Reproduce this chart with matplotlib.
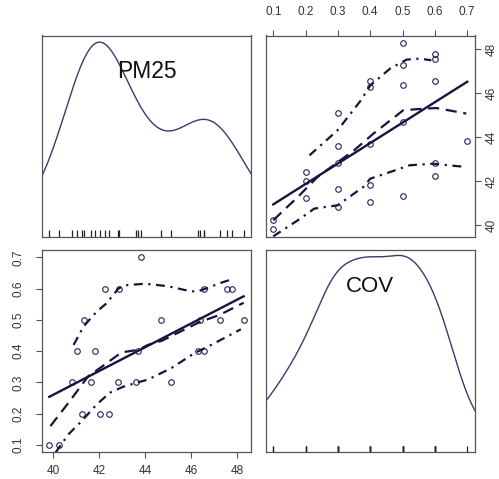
import numpy as np
import matplotlib
matplotlib.use("Agg")
import matplotlib.pyplot as plt
import matplotlib.transforms as mtransforms

plt.rcParams['font.family'] = ['Liberation Sans', 'DejaVu Sans']

# ---- data ----
cov = [0.1, 0.1,
       0.2, 0.2, 0.2,
       0.3, 0.3, 0.3, 0.3, 0.3,
       0.4, 0.4, 0.4, 0.4, 0.4,
       0.5, 0.5, 0.5, 0.5, 0.5,
       0.6, 0.6, 0.6, 0.6, 0.6,
       0.7]
pm25 = [39.83, 40.25,
        41.24, 42.03, 42.42,
        40.84, 41.66, 42.83, 43.61, 45.12,
        41.05, 41.84, 43.70, 46.29, 46.58,
        41.33, 44.71, 46.38, 47.28, 48.29,
        42.24, 42.85, 46.58, 47.58, 47.78,
        43.83]

# smoother (dashed) and spread (dash-dot) lines
# panel: x = PM25, y = COV
bl_loess_x = [39.88, 40.67, 41.53, 42.25, 42.97, 43.69, 44.13, 44.72, 46.37, 47.24, 48.29]
bl_loess_y = [0.160, 0.235, 0.320, 0.357, 0.396, 0.404, 0.420, 0.433, 0.493, 0.516, 0.555]
bl_upper_x = [40.89, 41.32, 41.90, 42.32, 42.83, 43.12, 44.00, 45.00, 45.72, 46.23, 46.59, 47.31, 47.77]
bl_upper_y = [0.420, 0.479, 0.527, 0.553, 0.600, 0.611, 0.616, 0.608, 0.596, 0.590, 0.599, 0.619, 0.630]
bl_lower_x = [40.10, 40.67, 41.24, 41.89, 42.47, 43.05, 43.69, 44.13, 45.15, 46.16, 46.88, 48.17]
bl_lower_y = [0.075, 0.134, 0.176, 0.229, 0.267, 0.286, 0.300, 0.309, 0.346, 0.394, 0.420, 0.470]
# panel: x = COV, y = PM25
tr_loess_x = [0.100, 0.176, 0.237, 0.350, 0.410, 0.502, 0.563, 0.605, 0.697]
tr_loess_y = [40.23, 41.29, 42.20, 43.41, 44.17, 45.23, 45.30, 45.33, 45.08]
tr_upper_x = [0.212, 0.299, 0.371, 0.400, 0.461, 0.512, 0.553, 0.589]
tr_upper_y = [43.18, 44.32, 45.68, 46.36, 47.12, 47.53, 47.58, 47.50]
tr_lower_x = [0.100, 0.176, 0.227, 0.299, 0.381, 0.400, 0.461, 0.522, 0.594, 0.697]
tr_lower_y = [39.50, 40.23, 40.76, 40.91, 41.77, 42.12, 42.42, 42.73, 42.80, 42.65]

names = ["PM25", "COV"]
pm_ticks = [40, 42, 44, 46, 48]
cov_ticks = [0.1, 0.2, 0.3, 0.4, 0.5, 0.6, 0.7]

# ---- styling ----
W, H = 499, 479
LINE = '#15153f'
PT = '#23235e'
FRAME = '#555555'
TXT = '#333333'

fig = plt.figure(figsize=(W / 100, H / 100), dpi=100)

def rect(l, r, t, b):
    return [l / W, 1 - b / H, (r - l) / W, (b - t) / H]

ax_tl = fig.add_axes(rect(41.5, 251.4, 35.5, 236.5))
ax_tr = fig.add_axes(rect(265.5, 475.0, 35.5, 236.5))
ax_bl = fig.add_axes(rect(41.5, 251.4, 250.0, 452.3))
ax_br = fig.add_axes(rect(265.5, 475.0, 250.0, 452.3))

def lims(v):
    lo, hi = min(v), max(v)
    d = (hi - lo) * 0.04
    return lo - d, hi + d

pm_lim = lims(pm25)
cov_lim = lims(cov)

for ax in (ax_tl, ax_tr, ax_bl, ax_br):
    for s in ax.spines.values():
        s.set_color(FRAME)
        s.set_linewidth(0.9)
    ax.tick_params(length=4.3, width=0.8, color=FRAME, labelsize=8.5,
                   labelcolor=TXT, pad=8.0)
    ax.set_xticks([])
    ax.set_yticks([])

def gauss_sum(pts, v, h):
    h = np.broadcast_to(h, v.shape)
    z = (pts[:, None] - v[None, :]) / h[None, :]
    return (np.exp(-0.5 * z ** 2) / (h[None, :] * np.sqrt(2 * np.pi))).mean(1)

def adaptive_kde(v):
    # adaptive kernel density (pilot fixed-bandwidth estimate, alpha = 0.5)
    v = np.asarray(v, dtype=float)
    n = len(v)
    sd = v.std(ddof=1)
    iqr = np.subtract(*np.percentile(v, [75, 25]))
    bw = 0.9 * min(sd, iqr / 1.34) * n ** -0.2
    pilot = gauss_sum(v, v, bw)
    g = np.exp(np.mean(np.log(pilot)))
    lam = (pilot / g) ** -0.5
    grid = np.linspace(v.min() - 3 * bw, v.max() + 3 * bw, 500)
    return grid, gauss_sum(grid, v, lam * bw)

def diag(ax, v, lim, label, fs):
    gx, gy = adaptive_kde(v)
    rng = max(v) - min(v)
    ax.plot(gx, min(v) + gy * rng / (gy.max() - gy.min()), color='#3a3a6e', lw=1.0)
    ax.set_xlim(lim)
    ax.set_ylim(lim)
    tr = mtransforms.blended_transform_factory(ax.transData, ax.transAxes)
    ax.vlines(v, 0, 0.03, transform=tr, color='#222222', lw=0.9)
    ax.text(0.5, 0.82, label, transform=ax.transAxes, ha='center', va='center',
            fontsize=fs, color='#111111')

diag(ax_tl, pm25, pm_lim, names[0], 16.5)
diag(ax_br, cov, cov_lim, names[1], 16)

def scatter_panel(ax, x, y, xl, yl, lo_x, lo_y, up_x, up_y, lw_x, lw_y):
    ax.plot(x, y, 'o', ms=4, mfc='none', mec=PT, mew=0.8, zorder=3)
    b, a = np.polyfit(x, y, 1)
    xs = np.array([min(x), max(x)])
    ax.plot(xs, a + b * xs, color=LINE, lw=1.7, zorder=4)
    ax.plot(lo_x, lo_y, color=LINE, lw=1.6, dashes=(5, 3), zorder=4)
    ax.plot(up_x, up_y, color=LINE, lw=1.6, dashes=(4, 2.5, 1, 2.5), zorder=4)
    ax.plot(lw_x, lw_y, color=LINE, lw=1.6, dashes=(4, 2.5, 1, 2.5), zorder=4)
    ax.set_xlim(xl)
    ax.set_ylim(yl)

scatter_panel(ax_tr, cov, pm25, cov_lim, pm_lim,
              tr_loess_x, tr_loess_y, tr_upper_x, tr_upper_y, tr_lower_x, tr_lower_y)
scatter_panel(ax_bl, pm25, cov, pm_lim, cov_lim,
              bl_loess_x, bl_loess_y, bl_upper_x, bl_upper_y, bl_lower_x, bl_lower_y)

# axes on outer sides
ax_tr.xaxis.tick_top()
ax_tr.set_xticks(cov_ticks)
ax_tr.set_xticklabels([f"{t:.1f}" for t in cov_ticks])
ax_tr.yaxis.tick_right()
ax_tr.tick_params(axis='y', pad=3.5)
ax_tr.set_yticks(pm_ticks)
ax_tr.set_yticklabels([str(t) for t in pm_ticks], rotation=90, va='center')

ax_bl.set_xticks(pm_ticks)
ax_bl.set_xticklabels([str(t) for t in pm_ticks])
ax_bl.tick_params(axis='x', pad=5.0)
ax_bl.set_yticks(cov_ticks)
ax_bl.set_yticklabels([f"{t:.1f}" for t in cov_ticks], rotation=90, va='center')

fig.savefig("out.png", dpi=100, facecolor='white')
